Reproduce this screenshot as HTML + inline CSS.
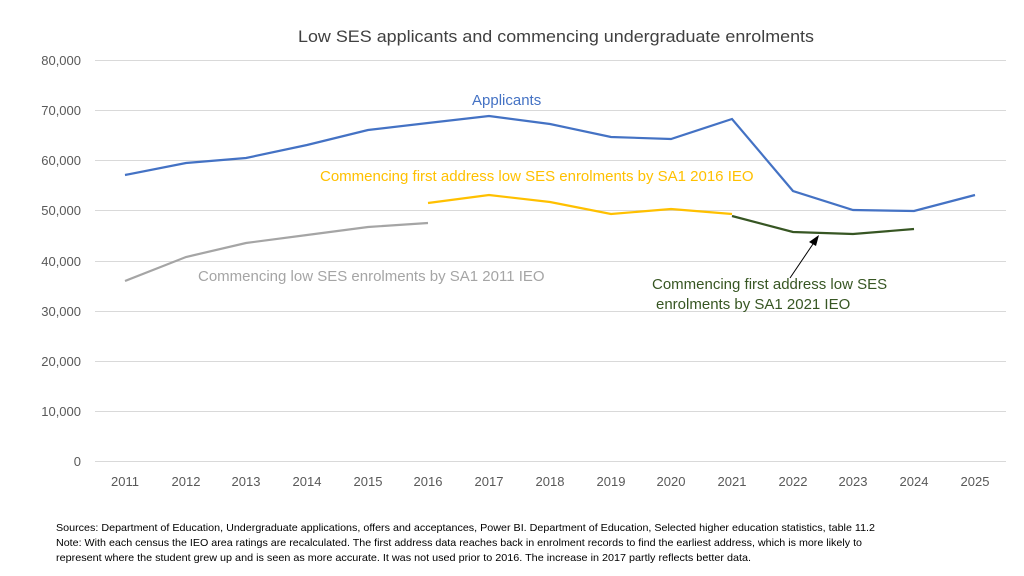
<!DOCTYPE html>
<html><head><meta charset="utf-8"><style>
body{margin:0;background:#fff;}
svg{display:block;font-family:"Liberation Sans",Calibri,sans-serif;}
</style></head><body>
<svg width="1024" height="576" viewBox="0 0 1024 576">
<rect width="1024" height="576" fill="#fff"/>
<text x="298" y="42" font-size="17" fill="#404040" textLength="516" lengthAdjust="spacingAndGlyphs">Low SES applicants and commencing undergraduate enrolments</text>
<g stroke="#d9d9d9" stroke-width="1">
<line x1="95" x2="1006" y1="60.5" y2="60.5"/><line x1="95" x2="1006" y1="110.5" y2="110.5"/>
<line x1="95" x2="1006" y1="160.5" y2="160.5"/><line x1="95" x2="1006" y1="210.5" y2="210.5"/>
<line x1="95" x2="1006" y1="261.5" y2="261.5"/><line x1="95" x2="1006" y1="311.5" y2="311.5"/>
<line x1="95" x2="1006" y1="361.5" y2="361.5"/><line x1="95" x2="1006" y1="411.5" y2="411.5"/>
<line x1="95" x2="1006" y1="461.5" y2="461.5"/>
</g>
<g font-size="13" fill="#595959" text-anchor="end">
<text x="81" y="65">80,000</text><text x="81" y="115">70,000</text><text x="81" y="165">60,000</text>
<text x="81" y="215">50,000</text><text x="81" y="266">40,000</text><text x="81" y="316">30,000</text>
<text x="81" y="366">20,000</text><text x="81" y="416">10,000</text><text x="81" y="466">0</text>
</g>
<g font-size="13" fill="#595959" text-anchor="middle">
<text x="125" y="486">2011</text><text x="186" y="486">2012</text><text x="246" y="486">2013</text>
<text x="307" y="486">2014</text><text x="368" y="486">2015</text><text x="428" y="486">2016</text>
<text x="489" y="486">2017</text><text x="550" y="486">2018</text><text x="611" y="486">2019</text>
<text x="671" y="486">2020</text><text x="732" y="486">2021</text><text x="793" y="486">2022</text>
<text x="853" y="486">2023</text><text x="914" y="486">2024</text><text x="975" y="486">2025</text>
</g>
<polyline fill="none" stroke="#4472c4" stroke-width="2.2" points="125,175 186,163 246,158 307,145 368,130 428,123 489,116 550,124 611,137 671,139 732,119 793,191 853,210 914,211 975,195"/>
<polyline fill="none" stroke="#a5a5a5" stroke-width="2.2" points="125,281 186,257 246,243 307,235 368,227 428,223"/>
<polyline fill="none" stroke="#ffc000" stroke-width="2.2" points="428,203 489,195 550,202 611,214 671,209 732,214"/>
<polyline fill="none" stroke="#375623" stroke-width="2.2" points="732,216 793,232 853,234 914,229"/>
<line x1="790" y1="278" x2="815" y2="241" stroke="#000" stroke-width="1"/>
<polygon points="819,235 809,242 816,246" fill="#000"/>
<text x="472" y="105" font-size="15" fill="#4472c4">Applicants</text>
<text x="320" y="181" font-size="15" fill="#ffc000">Commencing first address low SES enrolments by SA1 2016 IEO</text>
<text x="198" y="281" font-size="15" fill="#a5a5a5">Commencing low SES enrolments by SA1 2011 IEO</text>
<text x="652" y="289" font-size="15" fill="#375623">Commencing first address low SES</text>
<text x="656" y="309" font-size="15" fill="#375623">enrolments by SA1 2021 IEO</text>
<g font-size="10.5" fill="#000">
<text x="56" y="531" textLength="819" lengthAdjust="spacingAndGlyphs">Sources: Department of Education, Undergraduate applications, offers and acceptances, Power BI. Department of Education, Selected higher education statistics, table 11.2</text>
<text x="56" y="546" textLength="806" lengthAdjust="spacingAndGlyphs">Note: With each census the IEO area ratings are recalculated. The first address data reaches back in enrolment records to find the earliest address, which is more likely to</text>
<text x="56" y="561" textLength="695" lengthAdjust="spacingAndGlyphs">represent where the student grew up and is seen as more accurate. It was not used prior to 2016. The increase in 2017 partly reflects better data.</text>
</g>
</svg>
</body></html>
